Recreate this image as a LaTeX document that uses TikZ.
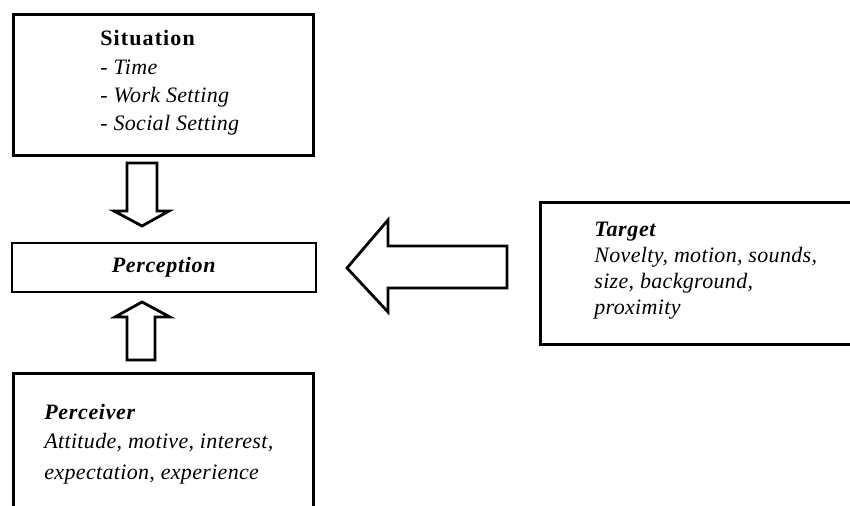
\documentclass[tikz,border=0pt]{standalone}
\usepackage{fontspec}
\setmainfont{Liberation Serif}[LetterSpace=1.5, BoldFeatures={LetterSpace=5}, BoldItalicFeatures={LetterSpace=3}]
\usetikzlibrary{positioning}
\tikzset{
  box/.style={draw, line width=1.4pt, inner sep=0pt, anchor=north west},
  boxtext/.style={inner sep=0pt, align=left, font=\fontsize{11}{14.2}\selectfont},
  blockarrow/.style={draw, line width=1.4pt, line join=miter, fill=white}
}
\begin{document}
\begin{tikzpicture}[x=0.5pt, y=-0.5pt]
        \useasboundingbox (0,0) rectangle (850,506);
        \clip (0,0) rectangle (850,506);
        %boxes
        \node[box, minimum width=150pt, minimum height=70.5pt] (situation) at (12,13) {};
        \node[box, line width=1pt, minimum width=152pt, minimum height=24.5pt, font=\fontsize{11}{14}\selectfont] (perception) at (11,242) {\textbf{\textit{Perception}}};
        \node[box, minimum width=170pt, minimum height=71pt] (target) at (539,201) {};
        \node[box, minimum width=150pt, minimum height=80pt] (perceiver) at (12,372) {};

        %texts
        \node[boxtext, below right=8.5pt and 44pt of situation.north west] (situationtext)
          {\textbf{Situation}\\- \textit{Time}\\- \textit{Work Setting}\\- \textit{Social Setting}};
        \node[boxtext, below right=10.5pt and 27.5pt of target.north west, font=\fontsize{11}{13}\selectfont] (targettext)
          {\textbf{\textit{Target}}\\\textit{Novelty, motion, sounds,}\\\textit{size, background,}\\\textit{proximity}};
        \node[boxtext, below right=16pt and 16pt of perceiver.north west, font=\fontsize{11}{14.5}\selectfont] (perceivertext)
          {\textbf{\textit{Perceiver}}\\\textit{Attitude, motive, interest,}\\[1pt]\textit{expectation, experience}};

        %arrows
        \draw[blockarrow] (127,163) -- (157,163) -- (157,211) -- (169,211) -- (142,226) -- (114,211) -- (127,211) -- cycle;
        \draw[blockarrow] (127,360) -- (127,317) -- (115,317) -- (142,302) -- (170,317) -- (155,317) -- (155,360) -- cycle;
        \draw[blockarrow] (507,246) -- (388,246) -- (388,220) -- (347,268) -- (388,312) -- (388,288) -- (507,288) -- cycle;
    \end{tikzpicture}
\end{document}
